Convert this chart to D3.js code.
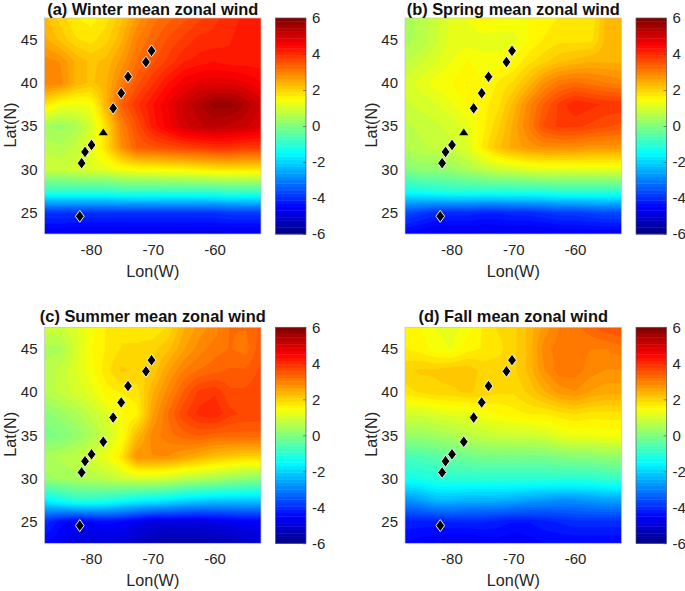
<!DOCTYPE html>
<html><head><meta charset="utf-8">
<script src="https://cdn.jsdelivr.net/npm/d3@7"></script>
<style>html,body{margin:0;padding:0;background:#fff}svg{display:block}text{font-family:"Liberation Sans",Arial,sans-serif}</style>
</head><body><svg id="chart" width="685" height="591"></svg>
<script>
const lons=[-87.5,-85,-82.5,-80,-77.5,-75,-72.5,-70,-67.5,-65,-62.5,-60,-57.5,-55,-52.5];
const lats=[47.5,45,42.5,40,37.5,35,32.5,30,27.5,25,22.5];
const winter=[
[2.3,2.0,1.7,1.6,1.8,2.2,2.7,3.1,3.3,3.5,3.7,3.9,4.0,4.2,4.2],
[2.5,2.2,1.9,1.8,2.0,2.4,3.0,3.3,3.6,3.8,4.0,4.0,4.1,4.3,4.2],
[2.9,2.8,2.4,2.2,2.3,2.7,3.2,3.5,3.8,4.1,4.2,4.3,4.2,4.2,4.2],
[3.0,2.9,2.4,2.2,2.4,3.0,3.5,3.9,4.3,4.6,4.8,4.8,4.8,4.7,4.5],
[1.8,1.4,1.3,1.4,2.4,3.4,3.9,4.3,4.7,5.1,5.4,5.7,5.7,5.4,5.0],
[0.4,0.3,0.5,1.0,1.9,3.0,3.6,4.2,4.6,5.0,5.2,5.3,5.2,5.1,4.9],
[0.7,0.6,0.8,1.2,1.9,2.8,3.4,3.5,3.6,3.7,3.8,3.9,3.9,3.8,3.8],
[0.9,0.9,1.0,1.1,1.2,1.4,1.5,1.5,1.6,1.6,1.7,1.8,1.8,1.8,1.8],
[-0.9,-0.9,-0.9,-0.9,-0.9,-0.8,-0.8,-0.8,-0.8,-0.8,-0.8,-0.8,-0.7,-0.7,-0.7],
[-3.9,-3.9,-3.9,-3.9,-3.9,-3.9,-3.9,-3.9,-3.9,-3.9,-3.9,-3.9,-3.8,-3.8,-3.8],
[-4.7,-4.7,-4.8,-4.8,-4.8,-4.8,-4.8,-4.8,-4.8,-4.8,-4.8,-4.8,-4.8,-4.8,-4.8]];
const spring=[
[0.5,0.6,0.9,1.2,1.3,1.6,1.5,1.5,1.5,1.6,1.7,1.8,1.7,2.3,2.4],
[0.5,0.6,0.9,1.2,1.2,1.2,1.2,1.2,1.5,1.7,1.8,1.8,1.8,2.3,2.4],
[0.7,0.9,1.1,1.3,1.5,1.4,1.4,1.5,1.8,2.0,2.2,2.3,2.4,2.4,2.4],
[1.0,1.2,1.4,1.5,1.7,1.5,1.7,1.9,2.3,2.8,3.1,3.2,3.1,3.0,2.9],
[0.9,1.0,1.1,1.3,1.5,1.6,1.8,2.3,2.9,3.4,3.8,4.1,4.0,3.9,3.9],
[0.7,0.8,0.9,1.0,1.2,1.6,2.0,2.5,3.0,3.6,3.8,3.8,3.7,3.6,3.5],
[0.6,0.7,0.8,0.9,1.1,1.7,2.2,2.5,2.7,2.8,2.8,2.8,2.7,2.7,2.7],
[0.0,0.2,0.2,0.3,0.5,0.7,0.9,1.0,1.1,1.2,1.2,1.2,1.2,1.2,1.2],
[-1.3,-1.2,-1.1,-1.0,-1.0,-1.0,-1.0,-1.0,-1.0,-1.0,-0.9,-0.9,-0.9,-0.9,-0.9],
[-3.6,-3.8,-4.0,-4.0,-4.0,-4.1,-4.1,-4.0,-4.0,-3.9,-3.8,-3.8,-3.7,-3.6,-3.6],
[-4.6,-4.7,-4.8,-4.8,-4.8,-4.8,-4.8,-4.8,-4.8,-4.8,-4.7,-4.7,-4.7,-4.7,-4.7]];
const summer=[
[0.9,0.9,1.1,1.4,1.7,1.8,1.8,1.7,1.9,2.4,2.7,2.9,3.2,3.2,3.4],
[0.5,0.5,1.0,1.5,1.7,1.9,1.9,2.0,2.2,2.6,2.9,3.1,3.2,3.1,3.5],
[0.6,0.8,1.1,1.4,1.8,2.1,2.0,2.1,2.6,3.0,3.2,3.3,3.4,3.4,3.6],
[0.6,0.8,1.0,1.2,1.6,1.7,1.8,2.4,2.9,3.4,3.8,3.9,3.6,3.6,3.7],
[0.1,0.3,0.5,0.8,1.1,1.5,1.6,2.6,3.2,3.7,4.0,4.1,3.8,3.7,3.7],
[-0.1,0.0,0.2,0.5,0.9,1.4,2.3,2.9,3.1,3.3,3.4,3.3,3.3,3.3,3.3],
[0.5,0.6,0.7,1.0,1.3,1.8,2.8,2.8,2.8,2.6,2.4,2.2,2.1,2.0,2.0],
[0.3,0.4,0.5,0.6,0.7,0.9,1.0,1.0,0.9,0.7,0.6,0.5,0.3,0.2,0.1],
[-1.6,-1.3,-1.0,-1.0,-1.1,-1.3,-1.5,-1.6,-1.7,-1.9,-2.0,-2.1,-2.1,-2.1,-2.1],
[-4.0,-4.4,-4.6,-4.5,-4.4,-4.5,-4.7,-4.9,-4.9,-4.9,-4.9,-4.8,-4.7,-4.6,-4.6],
[-4.5,-4.7,-4.9,-5.0,-5.0,-5.0,-5.2,-5.4,-5.5,-5.5,-5.5,-5.4,-5.4,-5.2,-5.1]];
const fall=[
[1.6,1.5,1.3,1.2,1.4,1.7,1.9,2.0,2.3,2.7,3.0,3.1,3.3,3.5,3.6],
[1.7,1.6,1.4,1.3,1.6,1.7,1.8,2.0,2.3,2.9,3.1,3.1,3.0,3.0,3.1],
[2.0,2.1,2.1,2.2,2.2,2.0,2.0,2.0,2.3,2.8,3.1,3.1,2.9,2.8,2.8],
[1.8,1.9,2.0,2.0,2.1,2.0,1.9,1.9,2.1,2.4,2.7,2.8,2.6,2.5,2.5],
[1.0,1.0,1.1,1.2,1.2,1.4,1.5,1.6,1.7,1.7,1.8,1.9,1.8,1.8,1.8],
[0.3,0.3,0.4,0.5,0.7,0.8,0.9,0.9,0.9,1.0,1.2,1.3,1.3,1.4,1.4],
[-0.7,-0.6,-0.5,-0.3,-0.2,-0.1,-0.1,-0.1,-0.1,-0.1,0.0,0.1,0.1,0.2,0.2],
[-1.3,-1.2,-1.1,-1.0,-1.0,-1.0,-1.0,-1.0,-1.0,-1.0,-1.0,-1.0,-1.0,-0.9,-0.8],
[-2.8,-2.6,-2.3,-2.3,-2.4,-2.4,-2.4,-2.5,-2.6,-2.7,-2.8,-2.8,-2.7,-2.6,-2.6],
[-4.2,-4.2,-4.2,-4.1,-4.1,-4.1,-4.2,-4.3,-4.3,-4.2,-4.1,-4.0,-4.0,-4.0,-4.0],
[-4.5,-4.6,-4.7,-4.8,-4.8,-4.7,-4.6,-4.7,-4.6,-4.5,-4.5,-4.5,-4.5,-4.5,-4.5]];
const stationLon=[-81.8,-81.5,-80.95,-79.9,-78,-76.4,-75.1,-74,-71.1,-70.2];
const stationLat=[24.55,30.7,32.0,32.8,34.25,37.05,38.8,40.7,42.4,43.7];
const triangleStation=4;
const titles=["(a) Winter mean zonal wind","(b) Spring mean zonal wind","(c) Summer mean zonal wind","(d) Fall mean zonal wind"];
const seasons=[winter,spring,summer,fall];
const triangleFlags=[true,true,false,false];
const xTicks=[-80,-70,-60];
const yTicks=[25,30,35,40,45];
const cbTicks=[-6,-4,-2,0,2,4,6];

function jet(t){
  const c=v=>Math.round(255*Math.max(0,Math.min(1,v)));
  const r=1.5-Math.abs(4*t-3), g=1.5-Math.abs(4*t-2), b=1.5-Math.abs(4*t-1);
  return `rgb(${c(r)},${c(g)},${c(b)})`;
}
const nLevels=64;
const levelColor=i=>jet((i+0.5)/nLevels);
const vmin=-6,vmax=6;
const thresholds=d3.range(nLevels).map(i=>vmin+(vmax-vmin)*i/nLevels);

const svg=d3.select("#chart");
const defs=svg.append("defs");
const W=216.5,H=216;
const layout=[{x:44.5,y:18,ty:14.8},{x:405,y:18,ty:14.8},{x:44.5,y:327.3,ty:322.3},{x:405,y:327.3,ty:322.3}];
const ink="#262626";
const upsample=10;
const tickFont="15px";

seasons.forEach((grid,pi)=>{
  const L=layout[pi];
  const x=d3.scaleLinear().domain([-87.5,-52.5]).range([L.x,L.x+W]);
  const y=d3.scaleLinear().domain([22.5,47.5]).range([L.y+H,L.y]);
  const nc=lons.length,nr=lats.length,k=upsample;
  const cw=(nc-1)*k+1,ch=(nr-1)*k+1;
  const vals=new Float64Array(cw*ch);
  for(let j=0;j<ch;j++)for(let i=0;i<cw;i++){
    const fi=i/k,fj=j/k,i0=Math.min(nc-2,Math.floor(fi)),j0=Math.min(nr-2,Math.floor(fj));
    const a=fi-i0,b=fj-j0;
    vals[j*cw+i]=(1-a)*(1-b)*grid[j0][i0]+a*(1-b)*grid[j0][i0+1]+(1-a)*b*grid[j0+1][i0]+a*b*grid[j0+1][i0+1];
  }
  const contours=d3.contours().size([cw,ch]).thresholds(thresholds).smooth(true)(vals);
  const lonAt=d3.scaleLinear().domain([0.5,cw-0.5]).range([lons[0],lons[nc-1]]);
  const latAt=d3.scaleLinear().domain([0.5,ch-0.5]).range([lats[0],lats[nr-1]]);
  const path=d3.geoPath(d3.geoTransform({point(px,py){this.stream.point(x(lonAt(px)),y(latAt(py)));}}));
  const cid="clip"+pi;
  defs.append("clipPath").attr("id",cid).append("rect").attr("x",L.x).attr("y",L.y).attr("width",W).attr("height",H);
  const g=svg.append("g").attr("class","panel");
  const field=g.append("g").attr("clip-path",`url(#${cid})`).append("g").style("filter","blur(0.6px)");
  field.append("rect").attr("x",L.x-2).attr("y",L.y-2).attr("width",W+4).attr("height",H+4).attr("fill",levelColor(0));
  field.selectAll("path").data(contours).join("path").attr("d",path)
    .attr("fill",(d,i)=>levelColor(i)).attr("stroke",(d,i)=>levelColor(i)).attr("stroke-width",0.3);
  g.append("rect").attr("x",L.x).attr("y",L.y).attr("width",W).attr("height",H).attr("fill","none").attr("stroke","#c4c4c4").attr("stroke-width",0.7);

  const diamond="M0,-6L4.4,0L0,6L-4.4,0Z";
  const tri="M0,-4L4.6,2.8L-4.6,2.8Z";
  g.selectAll("path.st").data(stationLon.map((d,i)=>({lon:d,lat:stationLat[i],i}))).join("path").attr("class","st")
    .attr("d",d=>(d.i===triangleStation&&triangleFlags[pi])?tri:diamond)
    .attr("transform",d=>`translate(${x(d.lon)},${y(d.lat)})`)
    .attr("fill","#000").attr("stroke",d=>(d.i===triangleStation&&triangleFlags[pi])?"none":"#f2f2f2").attr("stroke-width",1);

  const xa=g.append("g").attr("transform",`translate(0,${L.y+H})`)
    .call(d3.axisBottom(x).tickValues(xTicks).tickSize(0).tickPadding(10).tickFormat(d=>d));
  const ya=g.append("g").attr("transform",`translate(${L.x},0)`)
    .call(d3.axisLeft(y).tickValues(yTicks).tickSize(0).tickPadding(7).tickFormat(d=>d));
  [xa,ya].forEach(a=>{a.select(".domain").remove();a.selectAll("text").attr("fill",ink).style("font-size",tickFont).style("font-family",'"Liberation Sans",Arial,sans-serif');});

  g.append("text").attr("x",L.x+W/2).attr("y",L.y+H+43).attr("text-anchor","middle").attr("fill",ink).style("font-size","16.2px").text("Lon(W)");
  g.append("text").attr("transform",`translate(${L.x-28.5},${L.y+H/2-1}) rotate(-90)`).attr("text-anchor","middle").attr("fill",ink).style("font-size","16.2px").text("Lat(N)");
  g.append("text").attr("x",L.x+W/2).attr("y",L.ty).attr("text-anchor","middle").attr("fill","#111").style("font-size","16.4px").style("font-weight","bold").text(titles[pi]);

  const cbx=L.x+231,cbw=30.5;
  const cy=d3.scaleLinear().domain([vmin,vmax]).range([L.y+H,L.y]);
  const bar=g.append("g").style("filter","blur(0.5px)");
  bar.selectAll("rect").data(d3.range(nLevels)).join("rect")
    .attr("x",cbx).attr("width",cbw)
    .attr("y",i=>cy(thresholds[i]+(vmax-vmin)/nLevels)).attr("height",H/nLevels+0.4)
    .attr("fill",levelColor);
  g.append("rect").attr("x",cbx).attr("y",L.y).attr("width",cbw).attr("height",H).attr("fill","none").attr("stroke","#555").attr("stroke-width",0.7);
  const ca=g.append("g").attr("transform",`translate(${cbx+cbw},0)`)
    .call(d3.axisRight(cy).tickValues(cbTicks).tickSize(-3).tickPadding(6).tickFormat(d=>d));
  ca.select(".domain").remove();
  ca.selectAll("line").attr("stroke","#444").attr("stroke-width",0.6);
  ca.selectAll("text").attr("fill",ink).style("font-size",tickFont).style("font-family",'"Liberation Sans",Arial,sans-serif');
});
</script></body></html>
